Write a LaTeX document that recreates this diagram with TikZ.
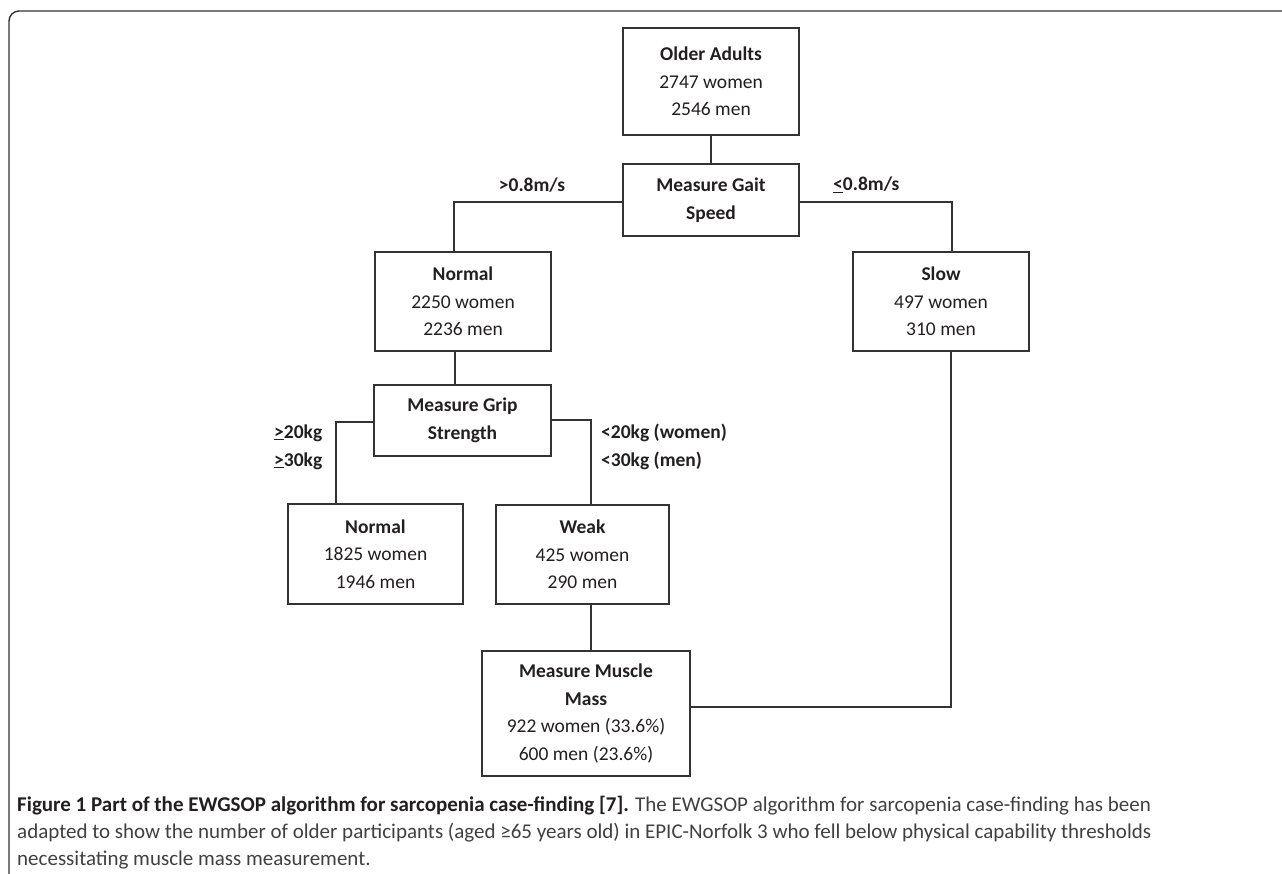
\documentclass[tikz,border=0pt]{standalone}
\usepackage{fontspec}
\setmainfont{Carlito}
\definecolor{ink}{HTML}{231F20}
\definecolor{edge}{HTML}{333333}
\definecolor{capgray}{HTML}{404040}
\begin{document}
\begin{tikzpicture}[x=1pt,y=-1pt,
  box/.style={draw=edge, line width=1.3pt, inner sep=0pt, align=center, text=ink,
    font=\fontsize{19.5}{27.5}\selectfont},
  lbl/.style={inner sep=0pt, text=ink, font=\fontsize{19.5}{27.5}\selectfont\bfseries},
  branch/.style={draw=edge, line width=1.2pt},
  stem/.style={draw=edge, line width=1.8pt},
  captext/.style={inner sep=0pt, anchor=base west, text=capgray, font=\fontsize{21}{26}\selectfont}]
\useasboundingbox (0,0) rectangle (1282,874);
% frame
\draw[edge, line width=1.4pt, rounded corners=10pt] (9,880) -- (9,11) -- (1290,11);
% boxes
\node[box, minimum width=176pt, minimum height=107pt] (old) at (711,81.5) {\textbf{Older Adults}\\2747 women\\2546 men};
\node[box, minimum width=176pt, minimum height=72pt] (gait) at (711,200) {\textbf{Measure Gait}\\\textbf{Speed}};
\node[box, minimum width=176pt, minimum height=99pt] (nA) at (463,301.5) {\textbf{Normal}\\2250 women\\2236 men};
\node[box, minimum width=176pt, minimum height=99pt] (slow) at (941,301.5) {\textbf{Slow}\\497 women\\310 men};
\node[box, minimum width=177pt, minimum height=71pt] (grip) at (462.5,420.5) {\textbf{Measure Grip}\\\textbf{Strength}};
\node[box, minimum width=175pt, minimum height=100pt] (nB) at (375.5,554) {\textbf{Normal}\\1825 women\\1946 men};
\node[box, minimum width=173pt, minimum height=99pt] (weak) at (582.5,554.5) {\textbf{Weak}\\425 women\\290 men};
\node[box, minimum width=208pt, minimum height=125pt] (mus) at (586,713.5) {\textbf{Measure Muscle}\\\textbf{Mass}\\922 women (33.6\%)\\600 men (23.6\%)};
% bend coordinates
\coordinate (kL) at (454,202);
\coordinate (kR) at (952,202);
\coordinate (sA) at (455,0);
\coordinate (kG) at (336,422);
\coordinate (kW) at (591,420);
\coordinate (kM) at (951,707);
% connectors
\draw[stem] (old.south) -- (gait.north);
\draw[branch] (gait.west |- kL) -- (kL) -- (kL |- nA.north);
\draw[branch] (gait.east |- kR) -- (kR) -- (kR |- slow.north);
\draw[stem] (sA |- nA.south) -- (sA |- grip.north);
\draw[branch] (grip.west |- kG) -- (kG) -- (kG |- nB.north);
\draw[branch] (grip.east |- kW) -- (kW) -- (kW |- weak.north);
\draw[stem] (kW |- weak.south) -- (kW |- mus.north);
\draw[branch] (kM |- slow.south) -- (kM) -- (mus.east |- kM);
% labels
\node[lbl] (l1) at (532,185) {>0.8m/s};
\node[lbl, anchor=west] (l2) at (833,185) {\underline{<}0.8m/s};
\node[lbl, anchor=west] (l3) at (274,433) {\underline{>}20kg};
\node[lbl, anchor=west] (l4) at (274,461) {\underline{>}30kg};
\node[lbl, anchor=west] (l5) at (601,433) {<20kg (women)};
\node[lbl, anchor=west] (l6) at (601,461) {<30kg (men)};
% caption
\node[captext] (c1) at (17,811) {\textbf{\color{ink}Figure 1 Part of the EWGSOP algorithm for sarcopenia case-finding [7].} The EWGSOP algorithm for sarcopenia case-finding has been};
\node[captext] (c2) at (17,838) {adapted to show the number of older participants (aged ≥65 years old) in EPIC-Norfolk 3 who fell below physical capability thresholds};
\node[captext] (c3) at (17,865) {necessitating muscle mass measurement.};
\end{tikzpicture}
\end{document}
